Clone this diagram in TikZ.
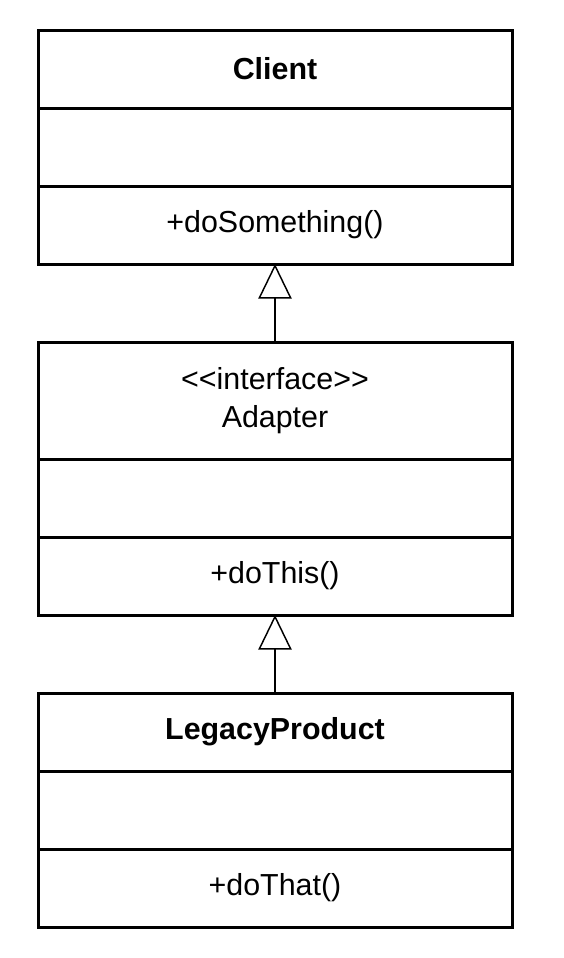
\documentclass[tikz,border=0pt]{standalone}
\usepackage{fontspec}
\setmainfont{Liberation Sans}
\usetikzlibrary{positioning,arrows.meta}

\tikzset{
  classpart/.style={draw, line width=2.25pt, minimum width=355.5pt,
    minimum height=58.5pt, inner sep=0pt, outer sep=0pt,
    font=\fontsize{22.8}{28.5}\selectfont, align=center},
  namepart/.style={classpart, font=\fontsize{22.8}{28.5}\selectfont\bfseries},
  inherits/.style={-{Triangle[open,length=26pt,width=25pt]}, line width=1.1pt}
}

\begin{document}
\begin{tikzpicture}
    \useasboundingbox (0,0) rectangle (423pt,-718.5pt);

    % Client
    \node[namepart] (client) at (206.25pt,-51.75pt) {Client};
    \node[classpart, below=0pt of client] (client attr) {};
    \node[classpart, below=0pt of client attr] (client ops) {+doSomething()};

    % Adapter interface
    \node[classpart, minimum height=87.75pt, below=58.5pt of client ops]
      (adapter) {<\kern0pt<interface>\kern0pt>\\Adapter};
    \node[classpart, below=0pt of adapter] (adapter attr) {};
    \node[classpart, below=0pt of adapter attr] (adapter ops) {+doThis()};

    % Legacy product
    \node[namepart, below=58.5pt of adapter ops] (legacy) {LegacyProduct};
    \node[classpart, below=0pt of legacy] (legacy attr) {};
    \node[classpart, below=0pt of legacy attr] (legacy ops) {+doThat()};

    % Generalisations
    \draw[inherits] (adapter) -- (client ops);
    \draw[inherits] (legacy) -- (adapter ops);
  \end{tikzpicture}
\end{document}
